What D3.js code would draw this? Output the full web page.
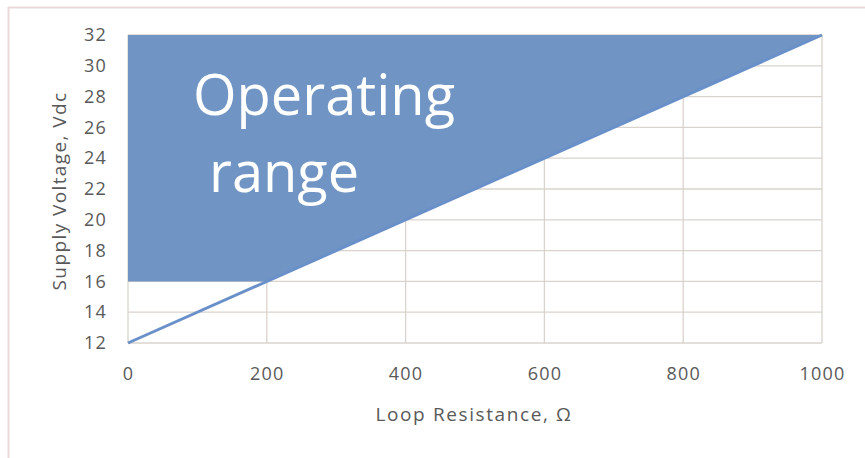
<!DOCTYPE html>
<html><head><meta charset="utf-8">
<script src="https://cdn.jsdelivr.net/npm/d3@7"></script>
<style>
body{margin:0;background:#fff;}
svg{display:block;font-family:"Open Sans",sans-serif;}
</style></head>
<body>
<svg id="c" width="865" height="458"></svg>
<script>
const xTicks = [0, 200, 400, 600, 800, 1000];
const yTicks = [12, 14, 16, 18, 20, 22, 24, 26, 28, 30, 32];
const lineResistance = [0, 1000];
const lineVoltage = [12, 32];
const areaResistance = [0, 200, 1000, 0];
const areaVoltage = [16, 16, 32, 32];
const labelLines = ["Operating", "range"];
const xTitle = "Loop Resistance, Ω";
const yTitle = "Supply Voltage, Vdc";

const svg = d3.select("#c");
// outer frame (top and left visible)
svg.append("line").attr("x1",8).attr("x2",865).attr("y1",7.5).attr("y2",7.5).attr("stroke","#ead9d9").attr("stroke-width",2);
svg.append("line").attr("x1",8.5).attr("x2",8.5).attr("y1",7).attr("y2",458).attr("stroke","#ead9d9").attr("stroke-width",2);

const x = d3.scaleLinear().domain([0,1000]).range([128,822]);
const y = d3.scaleLinear().domain([12,32]).range([343,35]);

const grid = "#d9d3cd";
svg.append("g").selectAll("line").data(yTicks).join("line")
  .attr("x1",x(0)).attr("x2",x(1000)).attr("y1",d=>y(d)).attr("y2",d=>y(d))
  .attr("stroke",grid).attr("stroke-width",1.3);
svg.append("g").selectAll("line").data(xTicks).join("line")
  .attr("x1",d=>x(d)).attr("x2",d=>x(d)).attr("y1",y(12)).attr("y2",y(32))
  .attr("stroke",grid).attr("stroke-width",1.3);

// area
const pts = areaResistance.map((r,i)=>[x(r), y(areaVoltage[i])]);
svg.append("path").attr("d", d3.line()(pts) + "Z").attr("fill","#7094c4");

// line
svg.append("path").attr("d", d3.line()(lineResistance.map((r,i)=>[x(r), y(lineVoltage[i])])))
  .attr("stroke","#6a90c9").attr("stroke-width",3).attr("fill","none");

// axes
const xAxis = d3.axisBottom(x).tickValues(xTicks).tickFormat(d3.format("d")).tickSize(0).tickPadding(24);
const gx = svg.append("g").attr("transform",`translate(0,${y(12)})`).call(xAxis);
gx.select(".domain").remove();
gx.selectAll("text").attr("fill","#595959").style("font-size","18px").style("font-family","Open Sans").style("letter-spacing","1.2px");

const yAxis = d3.axisLeft(y).tickValues(yTicks).tickFormat(d3.format("d")).tickSize(0).tickPadding(21);
const gy = svg.append("g").attr("transform",`translate(${x(0)},0)`).call(yAxis);
gy.select(".domain").remove();
gy.selectAll("text").attr("fill","#595959").style("font-size","18px").style("font-family","Open Sans").style("letter-spacing","1.2px");

svg.append("text").attr("x",474).attr("y",421).attr("text-anchor","middle")
  .attr("fill","#595959").style("font-size","19px").style("letter-spacing","1.6px").text(xTitle);
svg.append("text").attr("transform",`translate(66,191) rotate(-90)`).attr("text-anchor","middle")
  .attr("fill","#595959").style("font-size","19px").style("letter-spacing","1.4px").text(yTitle);

svg.append("text").attr("x",193).attr("y",115).attr("fill","#fff").style("font-size","56px").text(labelLines[0]);
svg.append("text").attr("x",209).attr("y",192).attr("fill","#fff").style("font-size","56px").text(labelLines[1]);
</script>
</body></html>
